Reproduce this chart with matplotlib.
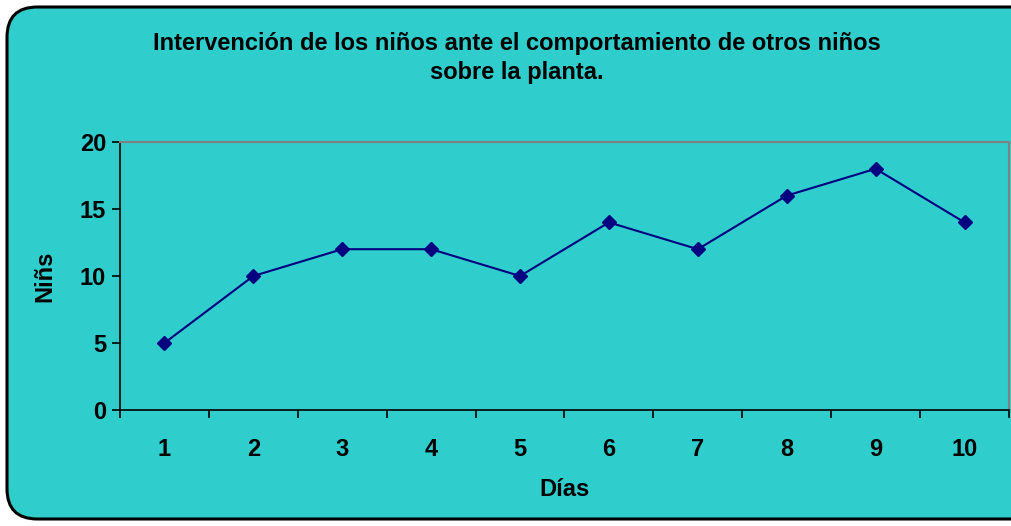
import matplotlib.pyplot as plt
from matplotlib.patches import FancyBboxPatch

plt.rcParams['font.family'] = ['Liberation Sans', 'DejaVu Sans']

dias = [1, 2, 3, 4, 5, 6, 7, 8, 9, 10]
ninos = [5, 10, 12, 12, 10, 14, 12, 16, 18, 14]
y_ticks = [0, 5, 10, 15, 20]

bg = '#30CDCD'
fs = 17
fig = plt.figure(figsize=(10.12, 5.26), dpi=100)
fig.patch.set_facecolor('white')

# rounded chart frame, drawn behind the axes
frame = FancyBboxPatch((7 / 1012, 7 / 526), 1.05, 1 - 14 / 526,
                       boxstyle="round,pad=0,rounding_size=0.03",
                       transform=fig.transFigure, facecolor=bg,
                       edgecolor='black', linewidth=2.2, mutation_aspect=1012 / 526,
                       zorder=-5)
fig.patches.append(frame)

ax = fig.add_axes([120 / 1012, 1 - 410 / 526, (1009 - 120) / 1012, (410 - 142) / 526])
ax.set_facecolor(bg)

ax.plot(dias, ninos, color='#000080', linewidth=1.5, marker='D', markersize=7,
        clip_on=False)

ax.set_xlim(0.5, 10.5)
ax.set_ylim(0, 20)
ax.set_yticks(y_ticks)
ax.set_xticks(dias)
ax.set_xticks([d + 0.5 for d in [0] + dias], minor=True)
ax.tick_params(axis='x', which='major', length=0, pad=20, labelsize=fs)
ax.tick_params(axis='x', which='minor', length=6, width=1.2, direction='out')
ax.tick_params(axis='y', length=6, width=1.2, direction='out', pad=4, labelsize=fs)
for lab in ax.get_xticklabels() + ax.get_yticklabels():
    lab.set_fontweight('bold')

ax.spines['left'].set_linewidth(1.2)
ax.spines['bottom'].set_linewidth(1.2)
ax.spines['top'].set_color('#808080')
ax.spines['right'].set_color('#808080')
ax.spines['top'].set_linewidth(1.5)
ax.spines['right'].set_linewidth(1.5)

fig.text(517 / 1012, 1 - 58 / 526,
         "Intervención de los niños ante el comportamiento de otros niños\nsobre la planta.",
         ha='center', va='center', fontsize=fs, fontweight='bold', linespacing=1.3)
fig.text(45 / 1012, 1 - 276 / 526, "Niñs", rotation=90, ha='center', va='center',
         fontsize=fs, fontweight='bold')
fig.text(565 / 1012, 1 - 490 / 526, "Días", ha='center', va='center',
         fontsize=fs, fontweight='bold')

fig.savefig('out.png', dpi=100, facecolor=fig.get_facecolor())
